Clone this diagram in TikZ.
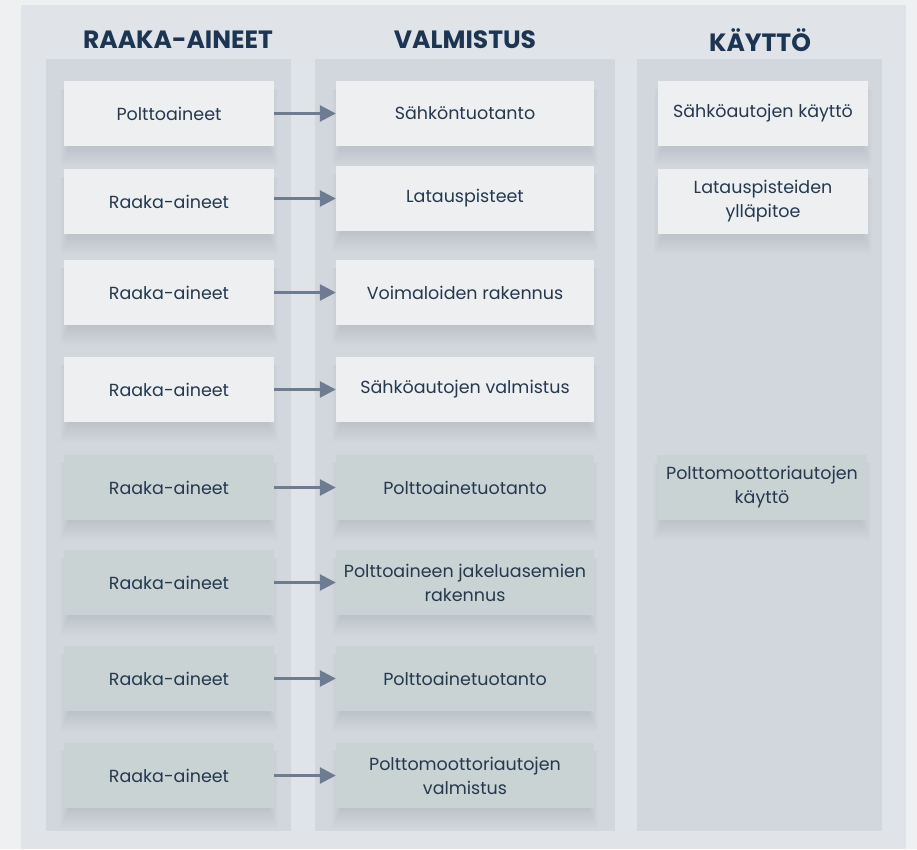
\documentclass[tikz,border=0pt]{standalone}
\usepackage{fontspec}
\setmainfont{Poppins}
\usetikzlibrary{arrows.meta,calc}
\definecolor{outerbg}{HTML}{EFF0F2}
\definecolor{panelbg}{HTML}{E0E3E7}
\definecolor{colbg}{HTML}{D2D6DD}
\definecolor{boxw}{HTML}{EDEFF1}
\definecolor{boxg}{HTML}{C9D3D3}
\definecolor{txt}{HTML}{25384F}
\definecolor{headc}{HTML}{1B3552}
\definecolor{arrc}{HTML}{6E7B90}
\definecolor{shadc}{HTML}{3A4560}
\pgfdeclarelayer{bg}
\pgfdeclarelayer{shd}
\pgfsetlayers{bg,shd,main}
\tikzset{
  box/.style={inner sep=0pt, minimum height=65pt, align=center, text=txt,
    font=\fontsize{17.5}{24}\selectfont},
  wbox/.style={box, fill=boxw},
  gbox/.style={box, fill=boxg},
  colA/.style={minimum width=210pt},
  colB/.style={minimum width=258pt},
  head/.style={text=headc, font=\fontsize{25}{28}\selectfont\bfseries, inner sep=0pt},
  arr/.style={draw=arrc, line width=2.8pt, -{Triangle[length=16pt,width=16pt]}}
}
\begin{document}
\begin{tikzpicture}[x=1pt,y=-1pt]
\useasboundingbox (0,0) rectangle (917,849);
\begin{pgfonlayer}{bg}
\fill[outerbg] (0,0) rectangle (917,849);
\fill[panelbg] (21,5) rectangle (906,849);
\fill[colbg] (46,59) rectangle (291,831);
\fill[colbg] (315,59) rectangle (615,831);
\fill[colbg] (637,59) rectangle (882,831);
\end{pgfonlayer}
% headers
\node[head] (h1) at (178,40) {RAAKA-AINEET};
\node[head] (h2) at (465,40) {VALMISTUS};
\node[head] (h3) at (760,40) {KÄYTTÖ};
% column 1
\node[wbox,colA] (a1) at (169,113.5) {Polttoaineet};
\node[wbox,colA] (a2) at (169,201.5) {Raaka-aineet};
\node[wbox,colA] (a3) at (169,292.5) {Raaka-aineet};
\node[wbox,colA] (a4) at (169,389.5) {Raaka-aineet};
\node[gbox,colA] (a5) at (169,487.5) {Raaka-aineet};
\node[gbox,colA] (a6) at (169,582.5) {Raaka-aineet};
\node[gbox,colA] (a7) at (169,678.5) {Raaka-aineet};
\node[gbox,colA] (a8) at (169,775.5) {Raaka-aineet};
% column 2
\node[wbox,colB] (b1) at (465,113.5) {Sähköntuotanto};
\node[wbox,colB] (b2) at (465,198.5) {Latauspisteet};
\node[wbox,colB] (b3) at (465,292.5) {Voimaloiden rakennus};
\node[wbox,colB] (b4) at (465,389.5) {Sähköautojen valmistus};
\node[gbox,colB] (b5) at (465,487.5) {Polttoainetuotanto};
\node[gbox,colB] (b6) at (465,582.5) {Polttoaineen jakeluasemien\\rakennus};
\node[gbox,colB] (b7) at (465,678.5) {Polttoainetuotanto};
\node[gbox,colB] (b8) at (465,775.5) {Polttomoottoriautojen\\valmistus};
% column 3
\node[wbox,colA] (c1) at (763,113.5) {Sähköautojen käyttö};
\node[wbox,colA] (c2) at (763,201.5) {Latauspisteiden\\ylläpitoe};
\node[gbox,colA] (c3) at (762,487.5) {Polttomoottoriautojen\\käyttö};
% shadows
\begin{pgfonlayer}{shd}
\foreach \n in {a1,a2,a3,a4,a5,a6,a7,a8,b1,b2,b3,b4,b5,b6,b7,b8,c1,c2,c3}{
  \foreach \i in {1,...,10}{
    \fill[shadc,opacity=0.012]
      ($(\n.north west)+(6-\i,8)$) rectangle ($(\n.south east)+(\i-6,2*\i)$);
  }
}
\end{pgfonlayer}
% arrows
\foreach \i in {1,...,8}{
  \draw[arr] (b\i.west -| a\i.east) -- (b\i.west);
}
\end{tikzpicture}
\end{document}
